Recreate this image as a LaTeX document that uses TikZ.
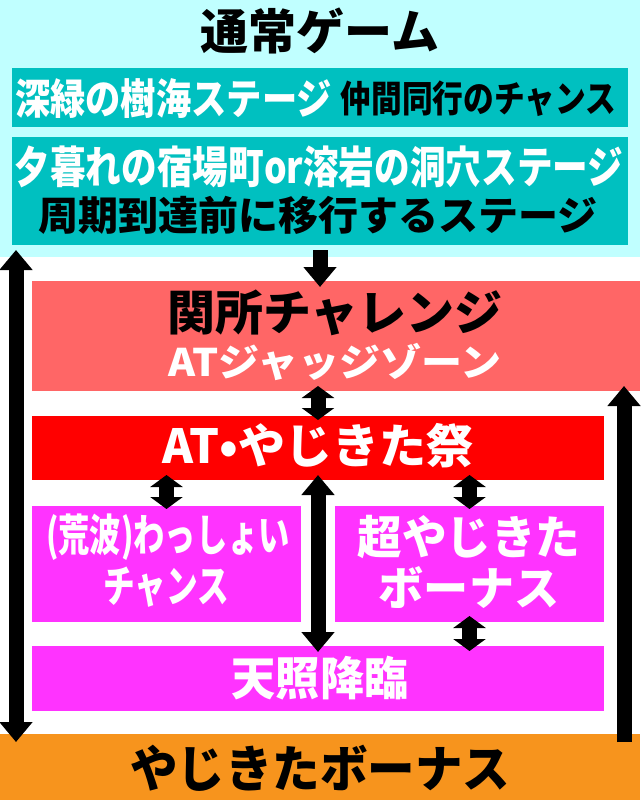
\documentclass[tikz,border=0pt]{standalone}
\usepackage{fontspec}
\setmainfont{Noto Sans CJK JP}
\usetikzlibrary{arrows.meta,calc}
\definecolor{bgcyan}{HTML}{C0FFFF}
\definecolor{tealbox}{HTML}{00C0C0}
\definecolor{salmonbox}{HTML}{FF6666}
\definecolor{redbox}{HTML}{FF0000}
\definecolor{magbox}{HTML}{FF33FF}
\definecolor{orangebox}{HTML}{F7941D}
\newcommand{\txt}[3]{\fontsize{#1}{#1}\selectfont\bfseries\scalebox{#2}[1]{#3}}
\begin{document}
\begin{tikzpicture}[x=1pt,y=-1pt,
  box/.style 2 args={anchor=north west,inner sep=0pt,outer sep=0pt,minimum width=#1pt,minimum height=#2pt},
  lbl/.style={inner sep=0pt,outer sep=0pt,anchor=center},
  bigdown/.style={line width=15pt,-{Triangle[length=20pt,width=32pt]}},
  bigdbl/.style={line width=15pt,{Triangle[length=20pt,width=32pt]}-{Triangle[length=20pt,width=32pt]}},
  smalldbl/.style={line width=15pt,{Triangle[length=12pt,width=32pt]}-{Triangle[length=12pt,width=32pt]}}
]
\useasboundingbox (0,0) rectangle (640,800);
\fill[white] (0,0) rectangle (640,800);
% boxes
\node[box={640}{257},fill=bgcyan] (normal) at (0,0) {};
\node[box={616}{59},fill=tealbox] (stage1) at (12,68) {};
\node[box={616}{108},fill=tealbox] (stage2) at (12,137) {};
\node[box={608}{110},fill=salmonbox] (sekisho) at (32,281) {};
\node[box={572}{64},fill=redbox] (atfest) at (32,416) {};
\node[box={269}{116},fill=magbox] (wasshoi) at (32,506) {};
\node[box={269}{116},fill=magbox] (superbonus) at (335,506) {};
\node[box={572}{65},fill=magbox] (amaterasu) at (32,646) {};
\node[box={640}{66},fill=orangebox] (bonus) at (0,734) {};
% texts
\node[lbl,text=black] (tnormal) at (320,31) {\txt{48}{1}{通常ゲーム}};
\node[lbl,text=white] (ts1a) at (173.5,99) {\txt{42}{0.84}{深緑の樹海ステージ}};
\node[lbl,text=black] (ts1b) at (478.5,99) {\txt{37}{0.83}{仲間同行のチャンス}};
\node[lbl,text=white] (ts2a) at (319,167) {\txt{44}{0.81}{夕暮れの宿場町or溶岩の洞穴ステージ}};
\node[lbl,text=black] (ts2b) at (318,215) {\txt{40}{1}{周期到達前に移行するステージ}};
\node[lbl,text=black] (tsek1) at (335,313) {\txt{48}{1}{関所チャレンジ}};
\node[lbl,text=white] (tsek2) at (335,362) {\txt{38}{1.08}{ATジャッジゾーン}};
\node[lbl,text=white] (tatf) at (318,446) {\txt{47}{1}{AT•やじきた祭}};
\node[lbl,text=white] (twa1) at (168,537) {\txt{44}{0.71}{(荒波)わっしょい}};
\node[lbl,text=white] (twa2) at (166,587) {\txt{44}{0.72}{チャンス}};
\node[lbl,text=white] (tsb1) at (469,537) {\txt{46}{0.97}{超やじきた}};
\node[lbl,text=white] (tsb2) at (469,588) {\txt{46}{0.98}{ボーナス}};
\node[lbl,text=white] (tama) at (320,678) {\txt{46}{0.96}{天照降臨}};
\node[lbl,text=black] (tbon) at (320,768) {\txt{50}{0.95}{やじきたボーナス}};
% arrows
\draw[bigdown] ($(stage2.south)+(0,5)$) -- ($(sekisho.north -| stage2.south)+(0,6)$);
\draw[smalldbl] ($(sekisho.south -| atfest.north)+(0,-5)$) -- ($(atfest.north)+(0,4)$);
\draw[bigdbl] ($(normal.south west)+(16,-7)$) -- ($(bonus.north west)+(16,8)$);
\draw[bigdown] ($(bonus.north east)+(-16,8)$) -- ($(sekisho.south east)+(-16,-5)$);
\draw[smalldbl] ($(atfest.south -| wasshoi.north)+(0,-5)$) -- ($(wasshoi.north)+(0,3)$);
\draw[smalldbl] ($(atfest.south -| superbonus.north)+(0,-5)$) -- ($(superbonus.north)+(0,3)$);
\draw[bigdbl] ($(atfest.south)+(0,-5)$) -- ($(amaterasu.north)+(0,6)$);
\draw[smalldbl] ($(superbonus.south)+(0,-6)$) -- ($(amaterasu.north -| superbonus.south)+(0,5)$);
\end{tikzpicture}
\end{document}
